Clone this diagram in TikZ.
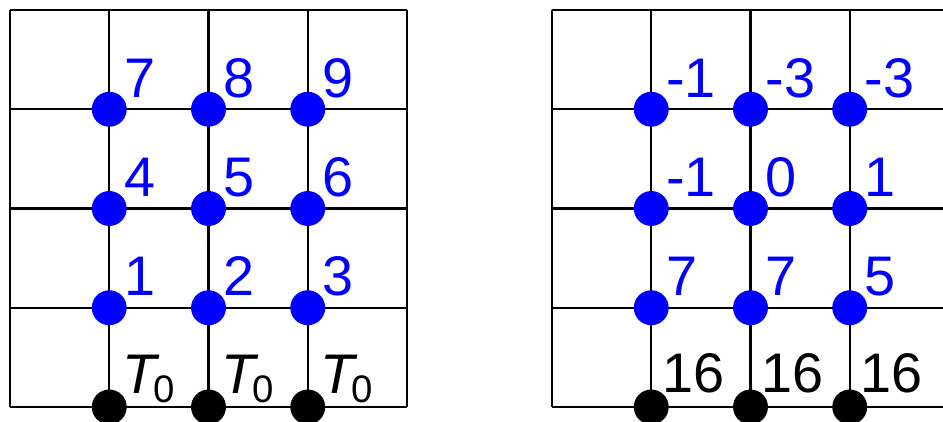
\documentclass[tikz,border=0pt]{standalone}
\usepackage{fontspec}
\setmainfont{Liberation Sans}
\usetikzlibrary{calc}
\begin{document}
\begin{tikzpicture}[line width=0.6pt,
  dot/.style={circle,fill=#1,inner sep=0pt,minimum size=0.352cm},
  lbl/.style={anchor=base west,inner sep=0pt,font=\fontsize{16}{19}\selectfont}]
\useasboundingbox (-0.1008,-0.151) rectangle (9.4005,4.1008);
\clip (-0.1008,-0.151) rectangle (9.4005,4.1008);
% left grid
\draw (0,0) grid (4,4);
\foreach \i in {1,2,3} {
  \node[dot=black] (a\i0) at (\i,0) {};
  \node[lbl] at ($(a\i0)+(0.12,0.14)$) {\textit{T}\kern-1.8pt\raisebox{-2.8pt}{\fontsize{11}{12}\selectfont 0}};
  \foreach \j in {1,2,3} {
    \pgfmathtruncatemacro\n{(\j-1)*3+\i}
    \node[dot=blue] (a\i\j) at (\i,\j) {};
    \node[lbl,blue] at ($(a\i\j)+(0.14,0.12)$) {\n};
  }
}
% right grid
\begin{scope}[xshift=5.461cm]
\draw (0,0) grid (4,4);
\foreach \i in {1,2,3} {
  \node[dot=black] (b\i0) at (\i,0) {};
  \node[lbl] at ($(b\i0)+(0.1,0.15)$) {16};
}
\foreach \i/\j/\v in {1/1/7,2/1/7,3/1/5,1/2/-1,2/2/0,3/2/1,1/3/-1,2/3/-3,3/3/-3} {
  \node[dot=blue] (b\i\j) at (\i,\j) {};
  \node[lbl,blue] at ($(b\i\j)+(0.14,0.12)$) {\v};
}
\end{scope}
\end{tikzpicture}
\end{document}
